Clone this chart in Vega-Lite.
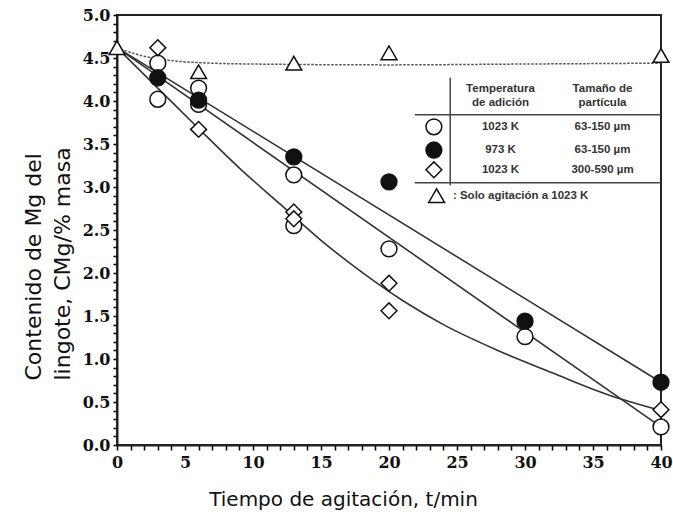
{
  "$schema": "https://vega.github.io/schema/vega-lite/v6.json",
  "width": 544,
  "height": 430,
  "autosize": {"type": "none"},
  "padding": {"left": 117, "top": 15, "right": 12, "bottom": 67},
  "background": "white",
  "config": {
    "view": {"stroke": "#222", "strokeWidth": 2},
    "axis": {
      "grid": false,
      "ticks": true,
      "domainColor": "#222",
      "domainWidth": 2,
      "tickColor": "black",
      "tickWidth": 1.5,
      "labelOverlap": false,
      "labelFont": "DejaVu Serif",
      "labelFontWeight": "bold",
      "labelFontSize": 16,
      "labelColor": "#111",
      "titleFont": "DejaVu Sans",
      "titleFontWeight": "normal",
      "titleFontSize": 20,
      "titleColor": "#111"
    }
  },
  "datasets": {
    "lines": [
      {"series": "upper", "t": 0, "C": 4.62},
      {"series": "upper", "t": 40, "C": 0.73},
      {"series": "middle", "t": 0, "C": 4.62},
      {"series": "middle", "t": 40, "C": 0.21},
      {"series": "lower", "t": 0, "C": 4.62},
      {"series": "lower", "t": 3, "C": 4.15},
      {"series": "lower", "t": 6, "C": 3.68},
      {"series": "lower", "t": 9, "C": 3.22},
      {"series": "lower", "t": 12, "C": 2.8},
      {"series": "lower", "t": 15, "C": 2.38},
      {"series": "lower", "t": 18, "C": 2.01},
      {"series": "lower", "t": 21, "C": 1.68},
      {"series": "lower", "t": 24, "C": 1.4},
      {"series": "lower", "t": 28, "C": 1.1},
      {"series": "lower", "t": 32, "C": 0.84},
      {"series": "lower", "t": 36, "C": 0.59},
      {"series": "lower", "t": 40, "C": 0.4}
    ],
    "dotted": [
      {"t": 0, "C": 4.62},
      {"t": 2, "C": 4.52},
      {"t": 4, "C": 4.47},
      {"t": 7, "C": 4.44},
      {"t": 10, "C": 4.43},
      {"t": 20, "C": 4.42},
      {"t": 30, "C": 4.43},
      {"t": 40, "C": 4.44}
    ],
    "points": [
      {"series": "o", "t": 3, "C": 4.44},
      {"series": "o", "t": 3, "C": 4.02},
      {"series": "o", "t": 6, "C": 4.15},
      {"series": "o", "t": 6, "C": 3.96},
      {"series": "o", "t": 13, "C": 3.14},
      {"series": "o", "t": 13, "C": 2.55},
      {"series": "o", "t": 20, "C": 2.28},
      {"series": "o", "t": 30, "C": 1.26},
      {"series": "o", "t": 40, "C": 0.21},
      {"series": "d", "t": 3, "C": 4.62},
      {"series": "d", "t": 6, "C": 3.67},
      {"series": "d", "t": 13, "C": 2.71},
      {"series": "d", "t": 13, "C": 2.63},
      {"series": "d", "t": 20, "C": 1.88},
      {"series": "d", "t": 20, "C": 1.56},
      {"series": "d", "t": 40, "C": 0.41},
      {"series": "f", "t": 3, "C": 4.27},
      {"series": "f", "t": 6, "C": 4.01},
      {"series": "f", "t": 13, "C": 3.35},
      {"series": "f", "t": 20, "C": 3.06},
      {"series": "f", "t": 30, "C": 1.44},
      {"series": "f", "t": 40, "C": 0.73},
      {"series": "tr", "t": 0, "C": 4.62},
      {"series": "tr", "t": 6, "C": 4.34},
      {"series": "tr", "t": 13, "C": 4.44},
      {"series": "tr", "t": 20, "C": 4.56},
      {"series": "tr", "t": 40, "C": 4.53}
    ],
    "legendRules": [
      {"t": 21.9, "t2": 40, "C": 3.84, "C2": 3.84},
      {"t": 21.9, "t2": 40, "C": 3.05, "C2": 3.05},
      {"t": 24.5, "t2": 24.5, "C": 4.27, "C2": 3.02}
    ],
    "legendSymbols": [
      {"series": "o", "t": 23.3, "C": 3.7},
      {"series": "f", "t": 23.3, "C": 3.43},
      {"series": "d", "t": 23.3, "C": 3.2},
      {"series": "tr", "t": 23.5, "C": 2.9}
    ],
    "legendText": [
      {"t": 28.2, "C": 4.14, "label": "Temperatura"},
      {"t": 28.2, "C": 3.98, "label": "de adición"},
      {"t": 35.7, "C": 4.14, "label": "Tamaño de"},
      {"t": 35.7, "C": 3.98, "label": "partícula"},
      {"t": 28.2, "C": 3.7, "label": "1023 K"},
      {"t": 35.7, "C": 3.7, "label": "63-150 µm"},
      {"t": 28.2, "C": 3.43, "label": "973 K"},
      {"t": 35.7, "C": 3.43, "label": "63-150 µm"},
      {"t": 28.2, "C": 3.2, "label": "1023 K"},
      {"t": 35.7, "C": 3.2, "label": "300-590 µm"}
    ],
    "legendNote": [
      {"t": 24.7, "C": 2.9, "label": ": Solo agitación a 1023 K"}
    ]
  },
  "layer": [
    {
      "data": {"name": "lines"},
      "mark": {"type": "line", "color": "#333", "strokeWidth": 1.6, "interpolate": "monotone"},
      "encoding": {
        "x": {
          "field": "t", "type": "quantitative",
          "scale": {"domain": [0, 40], "nice": false, "zero": false},
          "axis": {
            "title": "Tiempo de agitación, t/min",
            "tickCount": 40,
            "labelExpr": "datum.value % 5 === 0 ? datum.label : ''",
            "labelOverlap": false,
            "labelFlush": false,
            "labelBound": false,
            "tickSize": 5,
            "labelPadding": 4,
            "titleX": 226,
            "titleY": 60,
            "titleBaseline": "alphabetic",
            "titleAlign": "center"
          }
        },
        "y": {
          "field": "C", "type": "quantitative",
          "scale": {"domain": [0, 5], "nice": false, "zero": false},
          "axis": {
            "title": ["Contenido de Mg del", "lingote, CMg/% masa"],
            "tickCount": 50,
            "labelExpr": "abs(datum.value*2 - round(datum.value*2)) < 0.001 ? format(datum.value, '.1f') : ''",
            "labelOverlap": false,
            "labelFlush": false,
            "labelBound": false,
            "tickSize": 4,
            "labelPadding": 3,
            "titleX": -84,
            "titleY": 365,
            "titleAngle": 270,
            "titleAlign": "left",
            "titleBaseline": "middle",
            "titleLineHeight": 29,
            "titleFontSize": 22
          }
        },
        "detail": {"field": "series"}
      }
    },
    {
      "data": {"name": "dotted"},
      "mark": {"type": "line", "color": "#555", "strokeWidth": 1.5, "strokeDash": [2.5, 1.5], "interpolate": "monotone"},
      "encoding": {
        "x": {"field": "t", "type": "quantitative"},
        "y": {"field": "C", "type": "quantitative"}
      }
    },
    {
      "data": {"name": "legendRules"},
      "mark": {"type": "rule", "color": "#444", "strokeWidth": 1.5},
      "encoding": {
        "x": {"field": "t", "type": "quantitative"},
        "x2": {"field": "t2"},
        "y": {"field": "C", "type": "quantitative"},
        "y2": {"field": "C2"}
      }
    },
    {
      "data": {"name": "points"},
      "mark": {"type": "point", "filled": true, "stroke": "#111", "strokeWidth": 1.5, "opacity": 1},
      "encoding": {
        "x": {"field": "t", "type": "quantitative"},
        "y": {"field": "C", "type": "quantitative"},
        "shape": {"field": "series", "type": "nominal", "scale": {"domain": ["o", "f", "d", "tr"], "range": ["circle", "circle", "diamond", "triangle-up"]}, "legend": null},
        "fill": {"field": "series", "type": "nominal", "scale": {"domain": ["o", "f", "d", "tr"], "range": ["white", "#111", "white", "white"]}, "legend": null},
        "size": {"field": "series", "type": "nominal", "scale": {"domain": ["o", "f", "d", "tr"], "range": [250, 250, 340, 380]}, "legend": null}
      }
    },
    {
      "data": {"name": "legendSymbols"},
      "mark": {"type": "point", "filled": true, "stroke": "#111", "strokeWidth": 1.5, "opacity": 1},
      "encoding": {
        "x": {"field": "t", "type": "quantitative"},
        "y": {"field": "C", "type": "quantitative"},
        "shape": {"field": "series", "type": "nominal", "legend": null},
        "fill": {"field": "series", "type": "nominal", "legend": null},
        "size": {"field": "series", "type": "nominal", "legend": null}
      }
    },
    {
      "data": {"name": "legendText"},
      "mark": {"type": "text", "font": "Liberation Sans", "fontWeight": "bold", "fontSize": 11.5, "color": "#333", "align": "center", "baseline": "middle"},
      "encoding": {
        "x": {"field": "t", "type": "quantitative"},
        "y": {"field": "C", "type": "quantitative"},
        "text": {"field": "label"}
      }
    },
    {
      "data": {"name": "legendNote"},
      "mark": {"type": "text", "font": "Liberation Sans", "fontWeight": "bold", "fontSize": 11.5, "color": "#333", "align": "left", "baseline": "middle"},
      "encoding": {
        "x": {"field": "t", "type": "quantitative"},
        "y": {"field": "C", "type": "quantitative"},
        "text": {"field": "label"}
      }
    }
  ]
}
